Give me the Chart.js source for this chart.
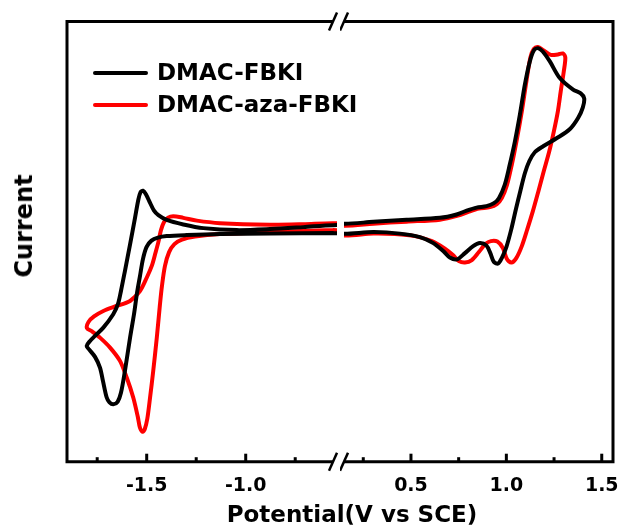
<!DOCTYPE html>
<html>
<head>
<meta charset="utf-8">
<script src="https://cdn.jsdelivr.net/npm/chart.js@4.4.0/dist/chart.umd.min.js"></script>
<style>
  body { margin: 0; background: #fff; overflow: hidden; }
  #wrap { position: relative; width: 622px; height: 528px; font-family: "DejaVu Sans"; font-weight: bold; color: #000; }
  #left { position: absolute; left: 0; top: 0; }
  #right { position: absolute; left: 340px; top: 0; }
  #ytitle { position: absolute; left: 24px; top: 226px; transform: translate(-50%, -50%) rotate(-90deg); font-size: 24px; white-space: nowrap; }
  #xtitle { position: absolute; left: 352px; top: 514px; transform: translate(-50%, -50%); font-size: 23px; white-space: nowrap; }
</style>
</head>
<body>
<div id="wrap">
  <canvas id="left" width="420" height="528"></canvas>
  <canvas id="right" width="282" height="528"></canvas>
  <div id="ytitle">Current</div>
  <div id="xtitle">Potential(V vs SCE)</div>
</div>
<script>
// potential (V vs SCE) and current (a.u.), one closed loop per compound
const blackX = [-0.558,-0.877,-1.130,-1.298,-1.399,-1.443,-1.476,-1.501,-1.519,-1.534,-1.549,-1.564,-1.584,-1.610,-1.630,-1.647,-1.669,-1.688,-1.702,-1.721,-1.736,-1.761,-1.791,-1.803,-1.786,-1.761,-1.719,-1.669,-1.645,-1.630,-1.610,-1.584,-1.559,-1.542,-1.531,-1.519,-1.504,-1.483,-1.463,-1.441,-1.399,-1.315,-1.214,-1.045,-0.877,-0.709,-0.558,
  0.154,0.303,0.477,0.652,0.739,0.792,0.844,0.896,0.935,0.961,0.992,1.018,1.045,1.071,1.097,1.123,1.144,1.167,1.191,1.228,1.280,1.350,1.390,1.408,1.401,1.376,1.332,1.263,1.193,1.149,1.120,1.097,1.073,1.050,1.026,1.000,0.976,0.957,0.935,0.916,0.896,0.861,0.826,0.783,0.741,0.704,0.669,0.617,0.547,0.442,0.303,0.154,-0.558];
const blackY = [-0.10,-0.15,-0.20,-0.30,-0.40,-0.55,-0.85,-1.5,-2.7,-4.4,-6.1,-8.2,-10.57,-13.9,-16.1,-17.0,-17.25,-17.05,-16.57,-14.9,-13.57,-12.5,-11.75,-11.4,-10.9,-10.4,-9.57,-8.23,-7.2,-5.9,-3.9,-1.23,1.43,3.27,4.0,4.15,3.8,2.93,2.15,1.7,1.22,0.77,0.4,0.2,0.3,0.5,0.7,
  0.83,1.03,1.23,1.43,1.77,2.15,2.45,2.6,2.9,3.4,4.77,6.77,9.1,11.77,14.77,17.1,18.2,18.43,18.1,17.1,15.43,14.27,13.9,13.4,12.5,11.43,10.3,9.4,8.6,8.0,7.1,5.9,4.1,2.3,0.3,-1.5,-2.6,-3.15,-3.0,-2.1,-1.35,-1.1,-1.4,-2.1,-2.73,-2.55,-1.9,-1.1,-0.5,-0.15,0,-0.17,-0.10];

const redX = [-0.558,-0.877,-1.130,-1.256,-1.322,-1.360,-1.387,-1.408,-1.423,-1.433,-1.449,-1.467,-1.483,-1.497,-1.510,-1.521,-1.534,-1.545,-1.568,-1.601,-1.635,-1.685,-1.736,-1.776,-1.802,-1.794,-1.766,-1.719,-1.652,-1.584,-1.534,-1.500,-1.473,-1.456,-1.440,-1.428,-1.413,-1.392,-1.366,-1.315,-1.247,-1.130,-0.877,-0.709,-0.558,
  0.154,0.303,0.477,0.652,0.746,0.804,0.856,0.914,0.950,0.976,1.003,1.029,1.055,1.081,1.105,1.126,1.144,1.165,1.196,1.233,1.270,1.296,1.309,1.301,1.285,1.270,1.249,1.225,1.196,1.168,1.139,1.110,1.081,1.052,1.026,1.003,0.982,0.953,0.919,0.890,0.856,0.819,0.783,0.751,0.720,0.678,0.610,0.521,0.416,0.303,0.154,-0.558];
const redY = [0.2,0,-0.2,-0.45,-0.75,-1.2,-2.0,-3.4,-5.4,-7.23,-10.57,-13.9,-16.57,-18.7,-19.75,-20.0,-19.6,-18.5,-16.57,-14.57,-12.9,-11.57,-10.57,-9.95,-9.6,-9.0,-8.45,-7.9,-7.4,-6.9,-5.9,-4.57,-3.3,-2.1,-0.9,0.2,1.0,1.45,1.6,1.43,1.15,0.9,0.75,0.8,0.9,
  0.65,0.85,1.05,1.25,1.65,2.05,2.35,2.5,2.8,3.4,4.7,6.8,9.3,12.1,15.1,17.5,18.35,18.55,18.2,17.75,17.8,17.9,17.5,16.1,14.1,12.1,10.1,8.1,6.1,4.1,2.1,0.3,-1.4,-2.6,-3.05,-2.7,-1.6,-0.95,-0.9,-1.2,-2.0,-2.8,-3.05,-2.9,-2.3,-1.65,-0.9,-0.4,-0.2,-0.15,-0.35,0.2];

const seriesNames = ['DMAC-FBKI', 'DMAC-aza-FBKI'];
const seriesColors = ['#000000', '#ff0000'];

// broken x axis: two ranges with their labelled and minor ticks
const leftRange = [-1.9025, -0.539];
const rightRange = [0.149, 1.559];
const leftTicks = [-1.5, -1.0];
const rightTicks = [0.5, 1.0, 1.5];
const leftMinor = [-1.75, -1.25, -0.75];
const rightMinor = [0.25, 0.75, 1.25];
const yRange = [-23, 21.1];

function toPoints(xs, ys) {
  return xs.map((x, i) => ({ x: x, y: ys[i] }));
}

function framePlugin(side, majors, minors) {
  return {
    id: 'frame',
    afterDraw(chart) {
      const ctx = chart.ctx;
      const a = chart.chartArea;
      const x = chart.scales.x;
      const cut = side === 'left' ? a.right - 4 : a.left;
      const edge = side === 'left' ? a.left : a.right;
      ctx.save();
      ctx.strokeStyle = '#000';
      ctx.lineWidth = 3;
      ctx.lineJoin = 'miter';
      ctx.beginPath();
      ctx.moveTo(cut, a.top);
      ctx.lineTo(edge, a.top);
      ctx.lineTo(edge, a.bottom);
      ctx.lineTo(cut, a.bottom);
      ctx.stroke();

      // the // marks
      ctx.lineWidth = 2.5;
      [a.top, a.bottom].forEach(y => {
        ctx.beginPath();
        ctx.moveTo(cut - 4, y + 9);
        ctx.lineTo(cut + 4, y - 9);
        ctx.stroke();
      });

      // ticks point inwards
      ctx.lineWidth = 3;
      majors.forEach(v => {
        const px = x.getPixelForValue(v);
        ctx.beginPath(); ctx.moveTo(px, a.bottom); ctx.lineTo(px, a.bottom - 8); ctx.stroke();
      });
      minors.forEach(v => {
        const px = x.getPixelForValue(v);
        ctx.beginPath(); ctx.moveTo(px, a.bottom); ctx.lineTo(px, a.bottom - 4.5); ctx.stroke();
      });
      ctx.restore();
    }
  };
}

const legendPlugin = {
  id: 'inlineLegend',
  afterDraw(chart) {
    const ctx = chart.ctx;
    ctx.save();
    ctx.font = 'bold 23px "DejaVu Sans"';
    ctx.textBaseline = 'alphabetic';
    ctx.lineCap = 'round';
    chart.data.datasets.forEach((ds, i) => {
      const y = 73 + 32 * i;
      ctx.strokeStyle = ds.borderColor;
      ctx.lineWidth = 4;
      ctx.beginPath(); ctx.moveTo(95, y); ctx.lineTo(146, y); ctx.stroke();
      ctx.fillStyle = '#000';
      ctx.fillText(ds.label, 157, y + 6.5);
    });
    ctx.restore();
  }
};

function makeChart(id, side, range, majors, minors) {
  // left canvas is wider than its plot so the legend text can run past the break
  const pad = side === 'left'
    ? { left: 67, right: 83, top: 21.5, bottom: 18.5 }
    : { left: 4, right: 9, top: 21.5, bottom: 18.5 };
  const plugins = [framePlugin(side, majors, minors)];
  if (side === 'left') plugins.push(legendPlugin);

  return new Chart(document.getElementById(id), {
    type: 'scatter',
    data: {
      datasets: [
        { label: seriesNames[0], data: toPoints(blackX, blackY), borderColor: seriesColors[0] },
        { label: seriesNames[1], data: toPoints(redX, redY), borderColor: seriesColors[1] }
      ].map(ds => Object.assign(ds, {
        showLine: true, pointRadius: 0, borderWidth: 4, tension: 0.3,
        borderCapStyle: 'round', borderJoinStyle: 'round', clip: 0
      }))
    },
    options: {
      responsive: false,
      animation: false,
      layout: { padding: pad },
      plugins: { legend: { display: false }, tooltip: { enabled: false } },
      scales: {
        x: {
          type: 'linear',
          min: range[0],
          max: range[1],
          afterBuildTicks: s => { s.ticks = majors.map(v => ({ value: v })); },
          afterFit: s => { s.paddingLeft = 0; s.paddingRight = 0; },
          ticks: {
            color: '#000',
            font: { family: 'DejaVu Sans', weight: 'bold', size: 19 },
            padding: 12.5,
            maxRotation: 0,
            autoSkip: false,
            callback: v => v.toFixed(1)
          },
          grid: { display: false, drawTicks: false },
          border: { display: false }
        },
        y: { display: false, min: yRange[0], max: yRange[1] }
      }
    },
    plugins: plugins
  });
}

makeChart('left', 'left', leftRange, leftTicks, leftMinor);
makeChart('right', 'right', rightRange, rightTicks, rightMinor);
</script>
</body>
</html>
